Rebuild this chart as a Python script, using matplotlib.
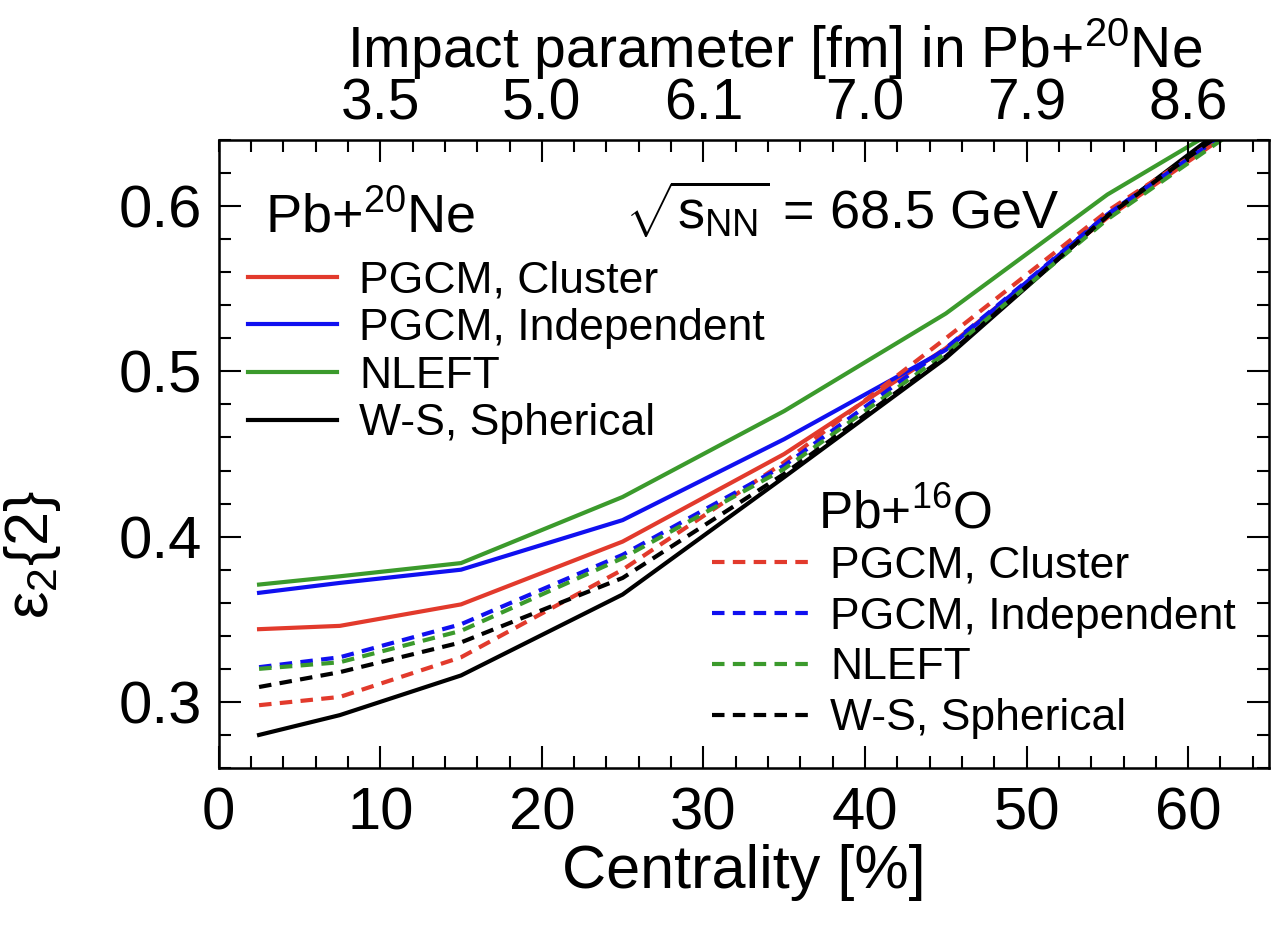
import numpy as np
import matplotlib
matplotlib.use("Agg")
import matplotlib.pyplot as plt
from matplotlib.ticker import MultipleLocator

plt.rcParams['font.family'] = ['Liberation Sans', 'DejaVu Sans']
plt.rcParams['mathtext.fontset'] = 'custom'
plt.rcParams['mathtext.rm'] = 'Liberation Sans'
plt.rcParams['mathtext.it'] = 'Liberation Sans:italic'

# centrality bin centres [%]
centrality = [2.5, 7.5, 15, 25, 35, 45, 55, 65]

# eps2{2}, Pb+20Ne (solid)
ne_pgcm_cluster = [0.344, 0.346, 0.359, 0.397, 0.450, 0.514, 0.593, 0.661]
ne_pgcm_indep = [0.366, 0.372, 0.380, 0.410, 0.459, 0.513, 0.595, 0.664]
ne_nleft = [0.371, 0.376, 0.384, 0.424, 0.476, 0.535, 0.607, 0.665]
ne_ws = [0.280, 0.292, 0.316, 0.365, 0.436, 0.508, 0.594, 0.668]

# eps2{2}, Pb+16O (dashed)
o_pgcm_cluster = [0.298, 0.303, 0.327, 0.380, 0.445, 0.520, 0.597, 0.661]
o_pgcm_indep = [0.321, 0.327, 0.347, 0.389, 0.443, 0.514, 0.595, 0.662]
o_nleft = [0.320, 0.324, 0.343, 0.387, 0.441, 0.511, 0.592, 0.660]
o_ws = [0.309, 0.318, 0.336, 0.375, 0.438, 0.509, 0.594, 0.665]

labels = ['PGCM, Cluster', 'PGCM, Independent', 'NLEFT', 'W-S, Spherical']
colors = ['#e23a2c', '#1010f0', '#3b9a2c', 'black']

# impact parameter in Pb+Ne at the top axis ticks
b_ticks = [10, 20, 30, 40, 50, 60]
b_labels = ['3.5', '5.0', '6.1', '7.0', '7.9', '8.6']

fig = plt.figure(figsize=(12.81, 9.36), dpi=100)
ax = fig.add_axes([0.1707, 0.1795, 0.8199, 0.6709])

ne_lines = []
for y, c, lab in zip([ne_pgcm_cluster, ne_pgcm_indep, ne_nleft, ne_ws], colors, labels):
    ln, = ax.plot(centrality, y, color=c, lw=3.0, label=lab)
    ne_lines.append(ln)

o_lines = []
for y, c, lab in zip([o_pgcm_cluster, o_pgcm_indep, o_nleft, o_ws], colors, labels):
    ln, = ax.plot(centrality, y, color=c, lw=3.0, ls=(0, (3.0, 2.0)), label=lab)
    o_lines.append(ln)

ax.set_xlim(0, 65)
ax.set_ylim(0.26, 0.64)
ax.xaxis.set_major_locator(MultipleLocator(10))
ax.xaxis.set_minor_locator(MultipleLocator(2))
ax.yaxis.set_major_locator(MultipleLocator(0.1))
ax.yaxis.set_minor_locator(MultipleLocator(0.02))
ax.yaxis.set_major_formatter(lambda v, p: f'{v:.1f}')
ax.tick_params(which='both', direction='in', right=True, width=1.5,
               labelsize=43)
ax.tick_params(which='major', length=16)
ax.tick_params(which='minor', length=8.5)
ax.tick_params(axis='x', pad=13)
ax.tick_params(axis='y', pad=12)
for s in ax.spines.values():
    s.set_linewidth(1.8)

ax.set_xlabel('Centrality [%]', fontsize=44, labelpad=2)
ax.set_ylabel('ε$_{2}${2}', fontsize=44)
ax.yaxis.set_label_coords(-0.148, 0.34)

# top axis: impact parameter
top = ax.twiny()
top.set_xlim(ax.get_xlim())
top.set_xticks(b_ticks)
top.set_xticklabels(b_labels)
top.xaxis.set_minor_locator(MultipleLocator(2))
top.tick_params(which='both', direction='in', width=1.5, labelsize=41, pad=6)
top.tick_params(which='major', length=16)
top.tick_params(which='minor', length=8.5)
top.set_xlabel('Impact parameter [fm] in Pb+$\\mathregular{^{20}}$Ne', fontsize=41)
top.xaxis.set_label_coords(0.529, 1.115)

ax.text(0.044, 0.876, 'Pb+$\\mathregular{^{20}}$Ne', transform=ax.transAxes,
        fontsize=39, va='center', ha='left')
ax.text(0.387, 0.889, '$\\sqrt{\\mathregular{s_{NN}}}$ = 68.5 GeV', transform=ax.transAxes,
        fontsize=39, va='center', ha='left')
ax.text(0.571, 0.403, 'Pb+$\\mathregular{^{16}}$O', transform=ax.transAxes,
        fontsize=37, va='center', ha='left')

leg1 = ax.legend(handles=ne_lines, loc='center left', bbox_to_anchor=(0.028, 0.662),
                 frameon=False, fontsize=32, handlelength=2.0, handletextpad=0.5,
                 labelspacing=0.15, borderpad=0, borderaxespad=0)
ax.add_artist(leg1)
ax.legend(handles=o_lines, loc='center left', bbox_to_anchor=(0.47, 0.2),
          frameon=False, fontsize=32, handlelength=2.2, handletextpad=0.45,
          labelspacing=0.22, borderpad=0, borderaxespad=0)

fig.savefig('out.png', dpi=100)
